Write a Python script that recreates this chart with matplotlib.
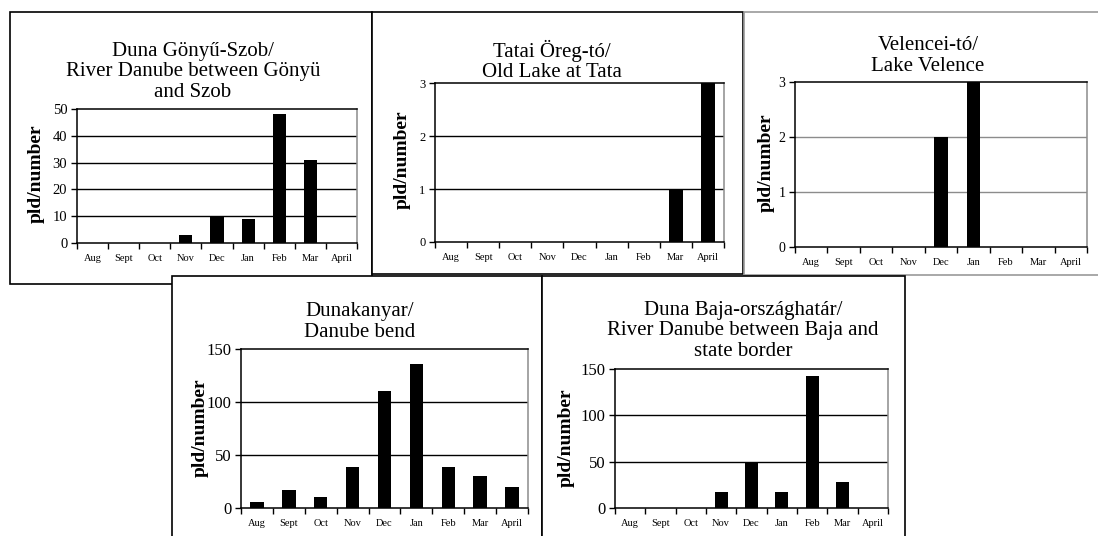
import matplotlib
matplotlib.use("Agg")
import matplotlib.pyplot as plt
from matplotlib.patches import Rectangle

plt.rcParams["font.family"] = ["Liberation Serif", "DejaVu Serif"]

W, H = 1098, 536

months = ["Aug", "Sept", "Oct", "Nov", "Dec", "Jan", "Feb", "Mar", "April"]

# pld counts per month
gonyu_szob = [0, 0, 0, 3, 10, 9, 48, 31, 0]
tata = [0, 0, 0, 0, 0, 0, 0, 1, 3]
velence = [0, 0, 0, 0, 2, 3, 0, 0, 0]
dunakanyar = [6, 17, 10, 39, 110, 136, 39, 30, 20]
baja = [0, 0, 0, 17, 49, 17, 142, 28, 0]

titles = [
    "Duna Gönyű-Szob/\nRiver Danube between Gönyü\nand Szob",
    "Tatai Öreg-tó/\nOld Lake at Tata",
    "Velencei-tó/\nLake Velence",
    "Dunakanyar/\nDanube bend",
    "Duna Baja-országhatár/\nRiver Danube between Baja and\nstate border",
]
yticks = [
    [0, 10, 20, 30, 40, 50],
    [0, 1, 2, 3],
    [0, 1, 2, 3],
    [0, 50, 100, 150],
    [0, 50, 100, 150],
]
series = [gonyu_szob, tata, velence, dunakanyar, baja]

# layout in pixels (left, top, right, bottom)
frames = [(10, 12, 372, 284), (372, 12, 743, 274), (744, 12, 1110, 275),
          (172, 276, 542, 545), (542, 276, 905, 545)]
frame_col = ["black", "black", "#9a9a9a", "black", "black"]
plots = [(77, 109, 357, 243), (435, 83, 724, 242), (795, 82, 1087, 247),
         (241, 349, 528, 508), (615, 369, 888, 508)]
title_pos = [(193, 72), (552, 61), (928, 56), (360, 322), (743, 331)]
ylab_pos = [(36, 174), (402, 160), (766, 163), (200, 428), (566, 438)]
grid_col = ["black", "black", "#8c8c8c", "black", "black"]
ytick_size = [10.5, 9, 10, 12, 12]

fig = plt.figure(figsize=(W / 100, H / 100), dpi=100)

def fx(px):
    return px / W

def fy(py):
    return 1 - py / H

for i in range(5):
    l, t, r, b = frames[i]
    fig.add_artist(Rectangle((fx(l), fy(b)), fx(r - l), (b - t) / H,
                             transform=fig.transFigure, facecolor="white",
                             edgecolor=frame_col[i], lw=1.2, zorder=-10 + i))

    l, t, r, b = plots[i]
    ax = fig.add_axes([fx(l), fy(b), fx(r - l), (b - t) / H])
    x = range(len(months))
    ax.bar(x, series[i], width=0.42, color="black", zorder=3)
    ax.set_xlim(-0.5, len(months) - 0.5)
    ax.set_ylim(0, yticks[i][-1])
    ax.set_yticks(yticks[i])
    ax.set_yticklabels([str(v) for v in yticks[i]], fontsize=ytick_size[i])
    for v in yticks[i][1:-1]:
        ax.axhline(v, color=grid_col[i], lw=1.0, zorder=1)
    ax.set_xticks(list(x))
    ax.set_xticklabels(months, fontsize=7.5)
    ax.set_xticks([k + 0.5 for k in range(-1, len(months))], minor=True)
    ax.tick_params(axis="x", which="major", length=0, pad=8)
    ax.tick_params(axis="x", which="minor", length=4, width=1, direction="out")
    ax.tick_params(axis="y", length=4, width=1, direction="out", pad=3)
    ax.spines["left"].set_color("black")
    ax.spines["bottom"].set_color("black")
    ax.spines["top"].set_color("black")
    ax.spines["right"].set_color("#8c8c8c")
    for s in ax.spines.values():
        s.set_linewidth(1.1)

    tx, ty = title_pos[i]
    fig.text(fx(tx), fy(ty), titles[i], ha="center", va="center",
             fontsize=15, linespacing=1.12)
    lx, ly = ylab_pos[i]
    fig.text(fx(lx), fy(ly), "pld/number", rotation=90,
             ha="center", va="center", fontsize=14, fontweight="bold")

fig.savefig("out.png", dpi=100)
